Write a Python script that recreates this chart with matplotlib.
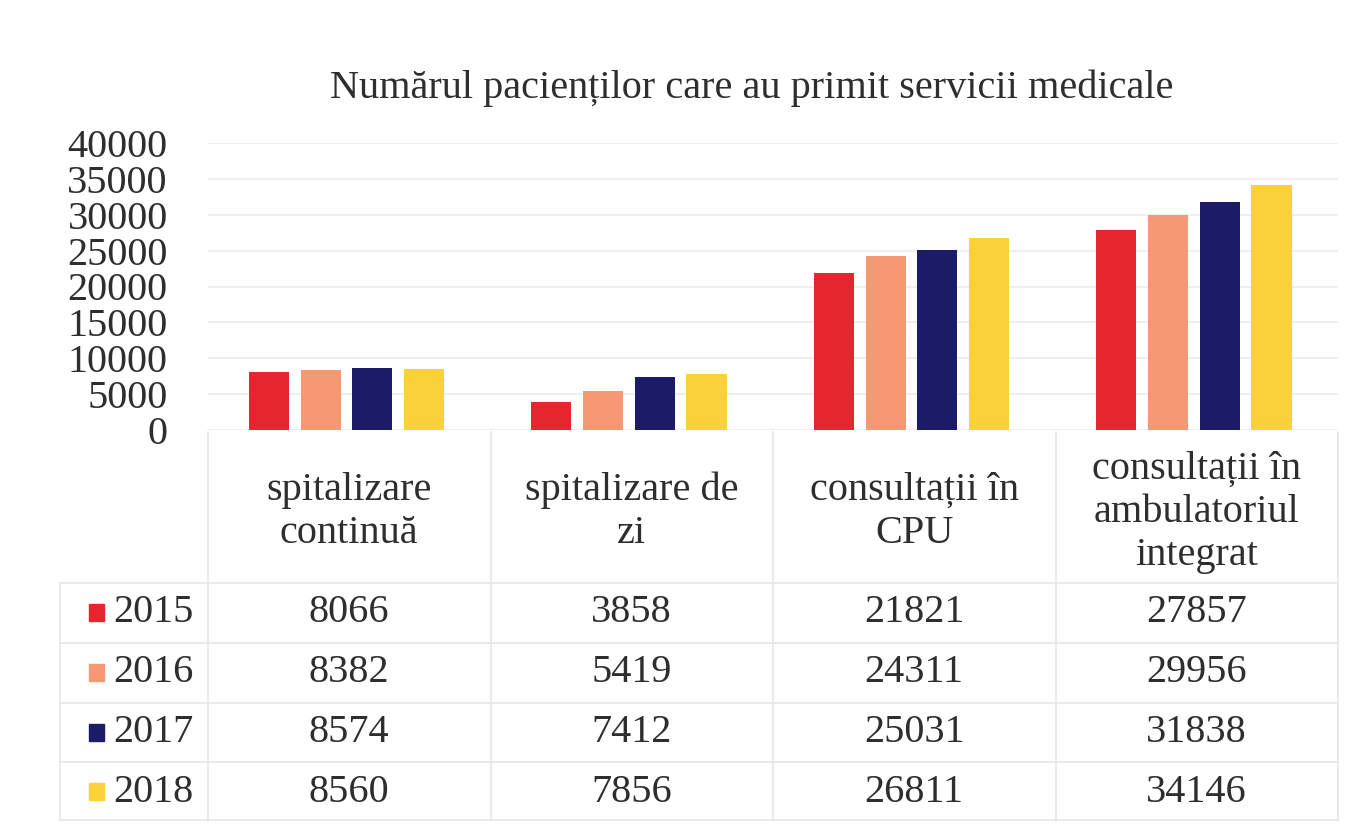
import matplotlib
matplotlib.use("Agg")
import matplotlib.pyplot as plt
import matplotlib.transforms as mtransforms
import numpy as np

plt.rcParams['font.family'] = ['Liberation Serif', 'DejaVu Serif']

categories = ["spitalizare\ncontinuă", "spitalizare de\nzi", "consultații în\nCPU",
              "consultații în\nambulatoriul\nintegrat"]
years = ["2015", "2016", "2017", "2018"]
values = {
    "2015": [8066, 3858, 21821, 27857],
    "2016": [8382, 5419, 24311, 29956],
    "2017": [8574, 7412, 25031, 31838],
    "2018": [8560, 7856, 26811, 34146],
}
colors = ["#e5262e", "#f59874", "#1c1b68", "#fbd13a"]
title = "Numărul pacienților care au primit servicii medicale"
yticks = [0, 5000, 10000, 15000, 20000, 25000, 30000, 35000, 40000]

W, H = 1366, 825
fig = plt.figure(figsize=(W / 100, H / 100), dpi=100)
fig.patch.set_facecolor("white")

def fy(py):
    return 1 - py / H

FS = 29
TXT = "#2e2e2e"

ax = fig.add_axes([208 / W, fy(430), (1338 - 208) / W, (430 - 143) / H])
x = np.arange(len(categories))
bw = 0.142
pitch = 0.183
for i, yr in enumerate(years):
    ax.bar(x + (i - 1.5) * pitch - 0.01, values[yr], width=bw, color=colors[i], zorder=3)

ax.set_xlim(-0.5, len(categories) - 0.5)
ax.set_ylim(0, 40000)
ax.set_yticks(yticks)
ax.set_yticklabels([str(t) for t in yticks], fontsize=FS, color=TXT)
ax.tick_params(axis='y', length=0, pad=29)
ax.tick_params(axis='x', length=0, labelbottom=False)
for s in ax.spines.values():
    s.set_visible(False)
ax.grid(axis='y', color="#ececec", linewidth=1.2, zorder=0)

fig.text(752 / W, fy(88), title, ha='center', va='center', fontsize=FS, color=TXT)

# data table under the chart
bt = mtransforms.blended_transform_factory(ax.transData, fig.transFigure)
line_col = "#e6e6e6"
for b in np.arange(-0.5, len(categories), 1.0):
    fig.add_artist(plt.Line2D([b, b], [fy(432), fy(820)], transform=bt,
                              color=line_col, linewidth=1.2))
row_edges = [583, 643, 703, 762, 820]
for ry in row_edges:
    fig.add_artist(plt.Line2D([60 / W, 1338 / W], [fy(ry), fy(ry)],
                              transform=fig.transFigure, color=line_col, linewidth=1.2))
fig.add_artist(plt.Line2D([60 / W, 60 / W], [fy(583), fy(820)],
                          transform=fig.transFigure, color=line_col, linewidth=1.2))

for j, cat in enumerate(categories):
    fig.text(x[j], fy(512), cat, transform=bt, ha='center', va='center',
             fontsize=FS, linespacing=1.22, color=TXT)

row_centers = [613, 673, 733, 792]
for i, yr in enumerate(years):
    cy = fy(row_centers[i])
    fig.add_artist(plt.Rectangle((89 / W, cy - 8 / H), 15 / W, 17 / H,
                                 transform=fig.transFigure, color=colors[i]))
    fig.text(113 / W, cy, yr, ha='left', va='center', fontsize=FS, color=TXT)
    for j in range(len(categories)):
        fig.text(x[j], cy, str(values[yr][j]), transform=bt, ha='center',
                 va='center', fontsize=FS, color=TXT)

fig.savefig("out.png", dpi=100, facecolor="white")
